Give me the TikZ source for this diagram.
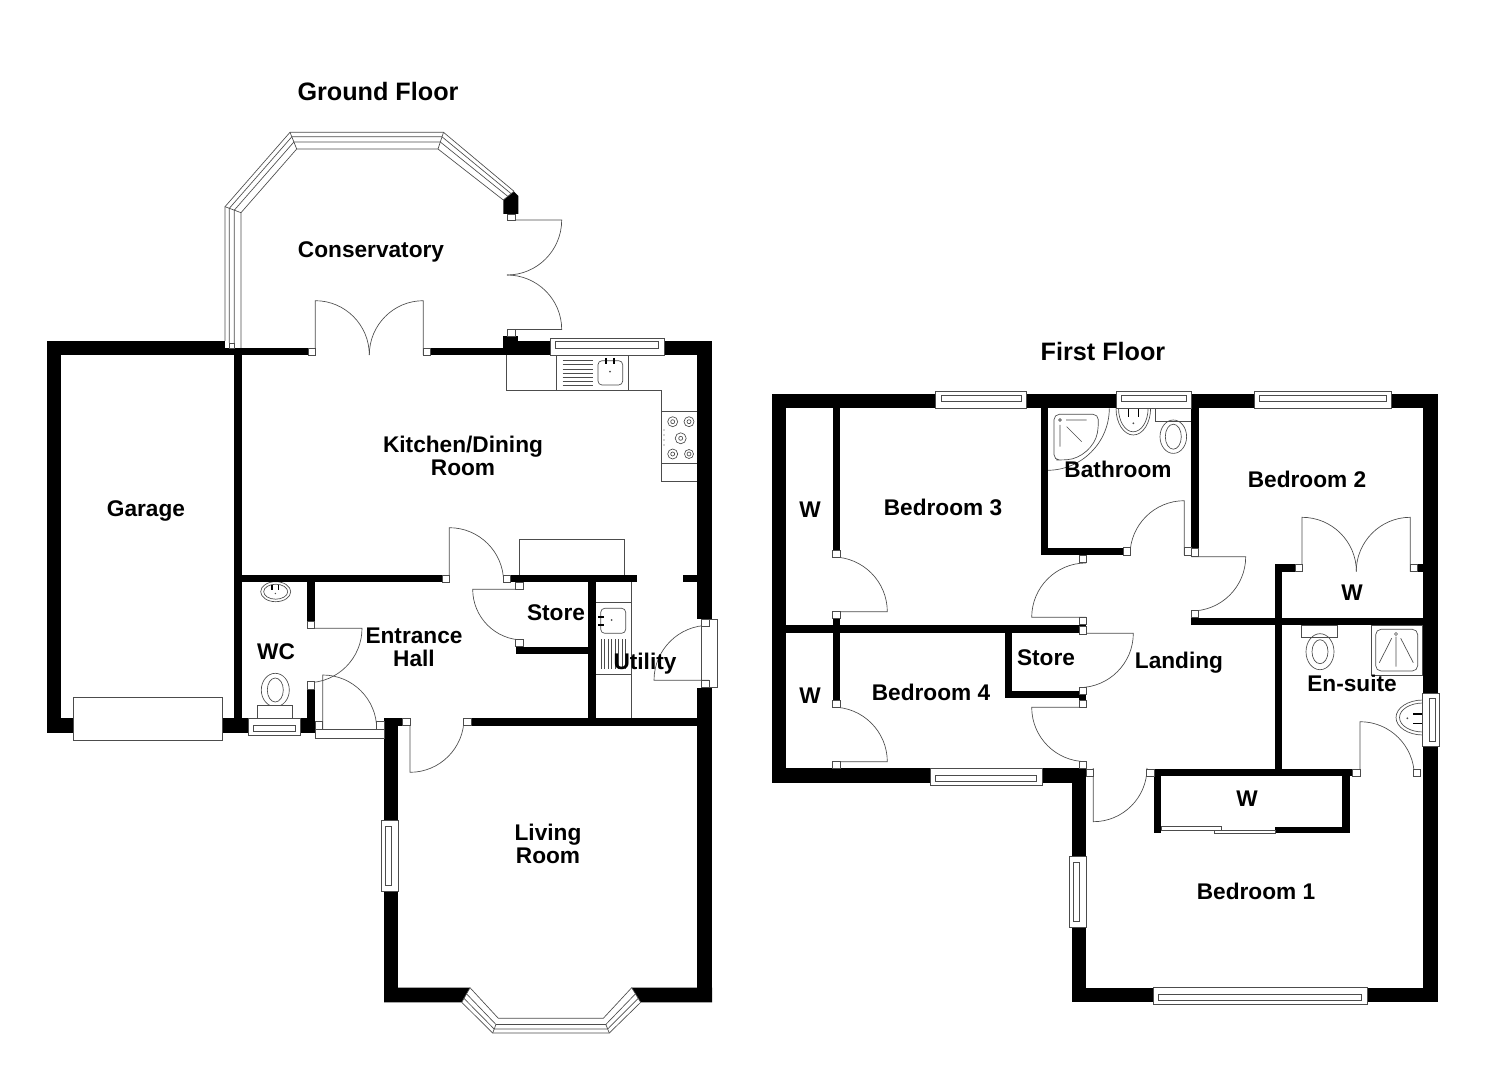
\documentclass[tikz,border=0pt]{standalone}
\usepackage{fontspec}
\setmainfont{Liberation Sans}
\usetikzlibrary{calc}

% filled wall piece, from corner to corner
\newcommand{\wall}[4]{\fill[black] (#1,#2) rectangle (#3,#4);}
% door leaf and swing: hinge, free end of leaf, end of swing
\newcommand{\door}[3]{\draw[fine] (#1) -- (#2) .. controls ($(#2)+.552*(#3)-.552*(#1)$) and ($(#3)+.552*(#2)-.552*(#1)$) .. (#3);}
% windows: two ends, outer face, inner face
\newcommand{\hwin}[4]{%
  \draw[fine,fill=white] (#1,#3) rectangle (#2,#4);
  \draw[fine] ({#1+5.5},{#3+.22*(#4-#3)}) rectangle ({#2-5.5},{#3+.58*(#4-#3)});
}
\newcommand{\vwin}[4]{%
  \draw[fine,fill=white] (#3,#1) rectangle (#4,#2);
  \draw[fine] ({#3+.22*(#4-#3)},{#1+5.5}) rectangle ({#3+.58*(#4-#3)},{#2-5.5});
}

\begin{document}
\begin{tikzpicture}[
    x=0.75pt, y=-0.75pt,
    fine/.style={draw=black!70, line width=0.5pt},
    jamb/.style={fine, fill=white},
    room/.style={font=\fontsize{17}{17.25}\selectfont\bfseries, align=center, inner sep=0pt},
    floorname/.style={font=\fontsize{18.9}{22}\selectfont\bfseries, inner sep=0pt}
]
\useasboundingbox (0,0) rectangle (1485,1080);

% Doors, ground floor
\door{507,220}{561.7,220}{507,275}
\door{507,329.5}{561.7,329.5}{507,275}
\door{315.3,355}{315.3,300.7}{369.3,355}
\door{423.3,355}{423.3,300.7}{369.3,355}
\door{449.3,582}{449.3,527.7}{503.6,582}
\door{523.3,589.3}{472.7,589.3}{523.3,640}
\door{307.5,628.3}{362,628.3}{307.5,682.7}
\door{322.7,729}{322.7,675}{376.7,729}
\door{410,718.3}{410,772.3}{464,718.3}
\door{709,680.3}{654,680.3}{709,625.3}

% Doors, first floor
\door{832.7,611.7}{887.3,611.7}{832.7,557}
\door{832.7,761.7}{887.3,761.7}{832.7,707.1}
\door{1086,617.3}{1031.7,617.3}{1086,563}
\door{1086,707.3}{1031.7,707.3}{1086,761.6}
\door{1079,633.3}{1133.3,633.3}{1079,687.6}
\door{1184.3,555}{1184.3,500.7}{1130,555}
\door{1191.3,556.7}{1245.7,556.7}{1191.3,611}
\door{1302,571.7}{1302,517.3}{1356.4,571.7}
\door{1410.3,571.7}{1410.3,517.3}{1356.2,571.7}
\door{1093.3,768}{1093.3,821.7}{1147,768}
\door{1360,776}{1360,721.7}{1414.3,776}

% Kitchen units
\draw[fine] (506.7,355) -- (506.7,390.7) -- (661.7,390.7) -- (661.7,481) -- (697.3,481);
\draw[fine] (556.7,355) -- (556.7,390.7) (628.3,355) -- (628.3,390.7);
\draw[fine] (661.7,411.7) -- (697.3,411.7) (661.7,463.3) -- (697.3,463.3);
\foreach \y in {360.7,364.8,368.9,373,377,381,385}
  \draw[fine] (562.7,\y) -- (592.7,\y);
\draw[fine, rounded corners=3pt] (598,360.7) rectangle (622.7,385);
\draw[line width=1.2pt] (606,358) -- (606,364) (614,358) -- (614,364);
\fill[black!70] (610,371.7) circle (1);
\foreach \x/\y/\r in {672.7/421.7/5, 689/421.7/5, 680.7/438.3/5.5, 672.7/454/5, 689/454/4.5} {
  \draw[fine] (\x,\y) circle[radius=\r];
  \draw[fine] (\x,\y) circle[radius=2];
}
\foreach \y in {430,435,440,445}
  \fill[black!70] (664,\y) circle (.6);
\draw[fine] (519.3,575) -- (519.3,539.3) -- (624.3,539.3) -- (624.3,575);

% Utility units
\draw[fine] (631,582) -- (631,718);
\draw[fine] (595.7,602.7) -- (631,602.7) (595.7,674) -- (631,674);
\draw[fine, rounded corners=3pt] (600.7,608.3) rectangle (625.7,633.3);
\draw[line width=1.2pt] (598,616.7) -- (604,616.7) (598,624.7) -- (604,624.7);
\fill[black!70] (611.7,620) circle (1);
\foreach \x in {601,604.5,608,611.5,615,618.5,622,625.5}
  \draw[fine] (\x,639) -- (\x,669);

% WC fittings
\draw[fine] (275.7,591.7) ellipse[x radius=15, y radius=10];
\draw[fine] (275.7,591.7) ellipse[x radius=12, y radius=7.5];
\draw[line width=1pt] (272,585) -- (272,590) (278.5,585) -- (278.5,590);
\fill[black!70] (275.3,593.5) circle (.8);
\draw[fine] (275.3,690) ellipse[x radius=14, y radius=16.7];
\draw[fine] (275.3,690) ellipse[x radius=8, y radius=12];
\draw[fine, fill=white] (257.3,705.7) rectangle (292.7,718.3);

% Bathroom fittings
\draw[fine] (1109.3,408.3) arc[start angle=0, end angle=90, radius=62];
\draw[fine, rounded corners=4pt] (1054,414.3) -- (1098.3,414.3) -- (1098.3,428) to[bend left=38] (1061.7,460) -- (1054,460) -- cycle;
\draw[fine] (1066,420) -- (1086.7,420) (1060,425) -- (1060,446.7) (1066.7,426.7) -- (1081.7,441.7);
\draw[fine] (1060,420) circle[radius=1.3];
\draw[fine] (1116,408.3) arc[start angle=180, end angle=0, x radius=17.3, y radius=26.7];
\draw[fine] (1118.5,408.3) arc[start angle=180, end angle=0, x radius=14.8, y radius=23.5];
\draw[line width=1pt] (1128.3,409) -- (1128.3,417) (1138.3,409) -- (1138.3,417);
\fill[black!70] (1133.3,423.3) circle (1);
\draw[fine] (1155.7,408.3) rectangle (1191.3,421.7);
\draw[fine] (1173.3,436.7) ellipse[x radius=13.3, y radius=16.7];
\draw[fine] (1173.3,436.7) ellipse[x radius=8, y radius=12.5];

% En-suite fittings
\draw[fine] (1301.7,625) rectangle (1337.3,637.7);
\draw[fine] (1320,651.7) ellipse[x radius=14, y radius=18];
\draw[fine] (1320,651.7) ellipse[x radius=8, y radius=12];
\draw[fine] (1371.7,625) rectangle (1422.7,675);
\draw[fine, rounded corners=4pt] (1375.7,629.3) rectangle (1417.7,671);
\draw[fine] (1396,636.7) -- (1396,666.7) (1391.7,638.3) -- (1379.3,662.7) (1400.7,638.3) -- (1413.3,662.7);
\draw[fine] (1396,634) circle[radius=1.5];
\draw[fine] (1423,700) arc[start angle=-90, end angle=-270, x radius=27, y radius=17.5];
\draw[fine] (1423,703) arc[start angle=-90, end angle=-270, x radius=23.5, y radius=14.5];
\draw[line width=1pt] (1413,714) -- (1421.7,714) (1413,723.3) -- (1421.7,723.3);
\fill[black!70] (1407.3,718.3) circle (1);

% Walls, ground floor
\wall{47}{341}{61}{733}
\wall{47}{341}{225}{355}
\wall{225}{348}{308}{355}
\wall{234}{355}{241.7}{718}
\wall{47}{718.3}{248.3}{733}
\wall{300.7}{718.3}{315}{733}
\wall{430.7}{348}{503.3}{355}
\wall{503.3}{341}{550}{355}
\wall{503.3}{336}{518.3}{341}
\wall{664}{341}{711.7}{355}
\wall{697.3}{341}{711.7}{619}
\wall{697.3}{687.7}{711.7}{1002.3}
\wall{241.7}{575}{442.3}{582.3}
\wall{510.3}{575}{636.7}{582.3}
\wall{683.3}{575}{697.3}{582.3}
\wall{588.3}{582}{595.7}{718.3}
\wall{515.7}{646.7}{588.3}{654}
\wall{307.3}{582}{315}{621}
\wall{307.3}{689.3}{315}{733}
\wall{384}{718.3}{402.7}{725.7}
\wall{471}{718.3}{697.3}{725.7}
\wall{384}{718.3}{398.3}{820.7}
\wall{384}{891}{398.3}{1002.3}
\fill[black] (384,987.7) -- (470,987.7) -- (461.7,1002.3) -- (384,1002.3) -- cycle;
\fill[black] (631.7,987.7) -- (712,987.7) -- (712,1002.3) -- (640.7,1002.3) -- cycle;
\fill[black] (503.3,200) -- (514,191.7) -- (518.3,196) -- (518.3,214) -- (503.3,214) -- cycle;

% Walls, first floor
\wall{771.7}{394}{935.7}{408.3}
\wall{1026.7}{394}{1116}{408.3}
\wall{1191.7}{394}{1254}{408.3}
\wall{1391.7}{394}{1437.5}{408.3}
\wall{1422.7}{394}{1437.5}{693.3}
\wall{1422.7}{746.7}{1437.5}{1002.3}
\wall{771.7}{394}{786}{782.7}
\wall{771.7}{768.3}{930}{782.7}
\wall{1042.3}{768.3}{1086}{782.7}
\wall{1071.7}{768.3}{1086}{856.7}
\wall{1071.7}{927.3}{1086}{1002.3}
\wall{1071.7}{987.5}{1153.3}{1002.3}
\wall{1367}{987.5}{1437.5}{1002.3}
\wall{832.7}{408}{840.3}{550.2}
\wall{832.7}{618.3}{840.3}{625}
\wall{786}{625}{1079}{632.7}
\wall{832.7}{632.7}{840.3}{700}
\wall{1079}{624.3}{1086}{626.7}
\wall{1079}{694.3}{1086}{700}
\wall{1005}{632.7}{1012.3}{698.3}
\wall{1005}{691}{1079}{698.3}
\wall{1040.7}{408}{1047.7}{555}
\wall{1040.7}{547.7}{1123.3}{555}
\wall{1191.3}{408}{1198.7}{548.7}
\wall{1191.3}{617.7}{1422.7}{625}
\wall{1275}{564.3}{1282.3}{769}
\wall{1275}{564.3}{1295}{571.7}
\wall{1417.7}{564.3}{1422.7}{571.7}
\wall{1154}{769}{1352.7}{776}
\wall{1154}{776}{1161}{833.3}
\wall{1342.3}{776}{1349.7}{833.3}
\wall{1275}{826.7}{1349.7}{833.3}

% Sliding wardrobe doors
\draw[fine] (1161,826.7) rectangle (1221.7,830);
\draw[fine] (1214.3,830) rectangle (1275,833.3);

% Conservatory glazing
\coordinate (co1) at (225,341);
\coordinate (co2) at (225,206.7);
\coordinate (co3) at (290,132.3);
\coordinate (co4) at (443.5,132.3);
\coordinate (co5) at (514,191.3);
\coordinate (ci1) at (241,348);
\coordinate (ci2) at (241,212.7);
\coordinate (ci3) at (296.7,149);
\coordinate (ci4) at (438,149);
\coordinate (ci5) at (503.3,200);
\foreach \f in {0,.27,.58,1}
  \draw[fine] ($(co1)!\f!(ci1)$) -- ($(co2)!\f!(ci2)$) -- ($(co3)!\f!(ci3)$) -- ($(co4)!\f!(ci4)$) -- ($(co5)!\f!(ci5)$);
\draw[fine] (co2) -- (ci2) (co3) -- (ci3) (co4) -- (ci4) (co5) -- (ci5);
\draw[fine, fill=white] (229,343) rectangle (234.3,348);

% Bay window
\coordinate (bo1) at (461.7,1002.3);
\coordinate (bo2) at (492.7,1033);
\coordinate (bo3) at (609.3,1033);
\coordinate (bo4) at (640.7,1002.3);
\coordinate (bi1) at (470,987.7);
\coordinate (bi2) at (498.3,1018.3);
\coordinate (bi3) at (603.3,1018.3);
\coordinate (bi4) at (631.7,987.7);
\foreach \f in {0,.27,.58,1}
  \draw[fine] ($(bo1)!\f!(bi1)$) -- ($(bo2)!\f!(bi2)$) -- ($(bo3)!\f!(bi3)$) -- ($(bo4)!\f!(bi4)$);
\draw[fine] (bo1) -- (bi1) (bo4) -- (bi4) (bo2) -- ($(bo2)!.58!(bi2)$) (bo3) -- ($(bo3)!.58!(bi3)$);

% Windows
\hwin{550}{664}{338}{355}
\hwin{248.3}{300.7}{735}{718.3}
\hwin{935.7}{1026.7}{391.7}{408.3}
\hwin{1116}{1191.7}{391.7}{408.3}
\hwin{1254}{1391.7}{391.7}{408.3}
\hwin{930}{1042.3}{785}{768.3}
\hwin{1153.3}{1367}{1004}{987.5}
\vwin{820.7}{891}{381.7}{398.3}
\vwin{856.7}{927.3}{1069.3}{1086}
\vwin{693.3}{746.7}{1439.3}{1422.7}

% Garage door, front door frame, utility door frame
\draw[fine, fill=white] (73,697) rectangle (222,740);
\draw[fine] (315.3,729) rectangle (384,738.7);
\draw[fine] (701.7,619) rectangle (717.3,687.7);

% Door jambs
\draw[jamb] (507,214) rectangle (515,220);
\draw[jamb] (507,329.5) rectangle (515,336);
\foreach \x/\y in {308/348, 423.3/348, 442.3/575, 503.3/575, 515.7/582.3, 515.7/639.3,
    307.5/621, 307.5/681.7, 315.3/721.7, 376.7/721.7, 402.7/718.3, 463.7/718.3,
    701.7/619, 701.7/680.3,
    832.7/550.2, 832.7/611, 832.7/700, 832.7/761, 1079/555.5, 1079/617, 1079/626.7,
    1079/687, 1079/700, 1079/761, 1123.3/547.7, 1184.3/547.7, 1191.3/548.7, 1191.3/610.3,
    1295/564.3, 1410.3/564.3, 1086.5/769, 1146.7/769, 1352.7/769, 1413.3/769}
  \draw[jamb] (\x,\y) rectangle ++(7.3,7.3);

% Labels
\node[floorname] (groundfloor) at (378,91) {Ground Floor};
\node[floorname] (firstfloor) at (1103,351) {First Floor};
\node[room] (conservatory) at (371,251.5) {Conservatory};
\node[room] (kitchen) at (463,456) {Kitchen/Dining\\Room};
\node[room] (garage) at (146,510.5) {Garage};
\node[room] (wc) at (276,651.5) {WC};
\node[room] (hall) at (414,647) {Entrance\\Hall};
\node[room] (store1) at (556,613) {Store};
\node[room] (utility) at (645,663.5) {Utility};
\node[room] (living) at (548,844) {Living\\Room};
\node[room] (bed3) at (943,507) {Bedroom 3};
\node[room] (bath) at (1118,469) {Bathroom};
\node[room] (bed2) at (1307,479) {Bedroom 2};
\node[room] (w1) at (810,510) {W};
\node[room] (w2) at (810,696) {W};
\node[room] (bed4) at (931,692) {Bedroom 4};
\node[room] (store2) at (1046,658) {Store};
\node[room] (landing) at (1179,663) {Landing};
\node[room] (w3) at (1352,593) {W};
\node[room] (ensuite) at (1352,683) {En-suite};
\node[room] (w4) at (1247,799) {W};
\node[room] (bed1) at (1256,891) {Bedroom 1};

\end{tikzpicture}
\end{document}
